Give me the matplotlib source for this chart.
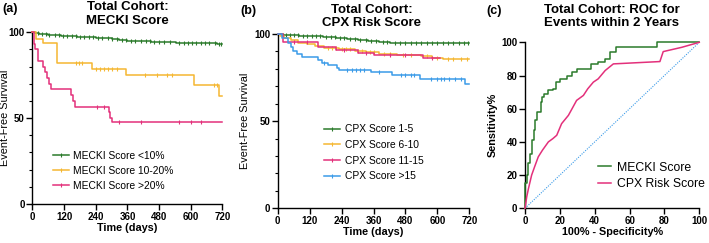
import matplotlib
matplotlib.use("Agg")
import matplotlib.pyplot as plt
import numpy as np
from matplotlib.lines import Line2D

plt.rcParams['font.family'] = ['Liberation Sans', 'DejaVu Sans']

# ---------------- Data ----------------
# Panel (a): MECKI score KM curves (event times, survival % after event)
a_green_t = [10, 25, 40, 60, 80, 110, 140, 170, 210, 240, 270, 300, 330, 360, 400, 450, 510, 545, 560, 700]
a_green_s = [99.6, 99.3, 99.0, 98.7, 98.4, 98.1, 97.8, 97.5, 97.2, 96.8, 96.4, 96.0, 95.6, 95.2, 94.9, 94.6, 94.3, 93.8, 93.5, 93.2]
a_green_c = [20, 35, 50, 65, 85, 100, 115, 130, 150, 165, 180, 195, 215, 230, 250, 265, 285, 300, 320, 340,
             355, 375, 390, 410, 430, 445, 460, 480, 500, 520, 555, 575, 590, 605, 620, 640, 655, 670, 690, 705, 715]
a_yellow_t = [15, 40, 95, 225, 355, 613, 705]
a_yellow_s = [96.0, 93.5, 82.0, 78.7, 75.1, 69.3, 62.9]
a_yellow_c = [166, 177, 187, 240, 255, 270, 285, 300, 320, 427, 471, 509, 528, 686, 699]
a_pink_t = [5, 8, 12, 20, 42, 47, 55, 62, 70, 145, 155, 163, 290, 295, 301]
a_pink_s = [96.7, 93.3, 90.0, 83.3, 80.0, 76.7, 73.3, 70.0, 66.7, 63.3, 60.0, 56.7, 53.3, 50.0, 47.5]
a_pink_c = [245, 270, 330, 410, 555, 600, 640]
a_end = 720

# Panel (b): CPX risk score KM curves
b_green_t = [15, 40, 80, 120, 170, 220, 260, 300, 340, 380, 420]
b_green_s = [99.7, 99.4, 99.0, 98.7, 98.2, 97.8, 97.4, 96.8, 96.2, 95.6, 95.1]
b_green_c = [20, 30, 45, 60, 75, 95, 110, 130, 145, 160, 180, 200, 215, 235, 250, 270, 290, 310, 330, 350,
             370, 395, 410, 440, 460, 480, 500, 520, 540, 560, 580, 600, 620, 640, 660, 680, 700, 715]
b_yellow_t = [10, 25, 50, 75, 110, 140, 175, 230, 290, 330, 380, 450, 540, 580, 620]
b_yellow_s = [99.0, 98.0, 96.5, 95.0, 94.0, 93.0, 92.0, 91.2, 90.3, 89.5, 88.8, 88.2, 87.4, 86.5, 85.7]
b_yellow_c = [190, 205, 220, 240, 255, 270, 300, 315, 345, 360, 400, 420, 470, 500, 560, 600, 640, 660, 690, 710]
b_pink_t = [20, 150, 220, 300, 360, 545]
b_pink_s = [95.6, 92.5, 91.0, 89.2, 88.2, 86.1]
b_pink_c = [60, 110, 250, 330, 420, 480, 580]
b_pink_end = 610
b_blue_t = [15, 40, 49, 59, 71, 90, 153, 165, 190, 222, 232, 351, 428, 535, 704]
b_blue_s = [97.6, 94.8, 92.3, 90.4, 88.5, 86.8, 84.9, 83.3, 82.0, 80.5, 79.6, 78.0, 76.7, 74.3, 71.3]
b_blue_c = [175, 260, 280, 295, 310, 325, 380, 465, 480, 500, 512, 575, 600, 612, 625, 645, 665, 690]
b_end = 720

# Panel (c): ROC curves (100% - specificity, sensitivity)
roc_mecki_x = [0, 0, 1, 1, 2, 2, 3, 3, 4, 4, 5, 5, 6, 6, 7, 7, 9, 9, 10, 10, 11, 11, 13, 13, 16, 16, 18, 18,
               20, 20, 24, 24, 27, 27, 30, 30, 38, 38, 42, 42, 46, 46, 49, 49, 52, 52, 76, 76, 100]
roc_mecki_y = [0, 15, 15, 20, 20, 27, 27, 33, 33, 41, 41, 47, 47, 53, 53, 58, 58, 64, 64, 67, 67, 69, 69, 71,
               71, 72, 72, 76, 76, 78, 78, 80, 80, 82, 82, 84, 84, 87, 87, 88, 88, 90, 90, 94, 94, 97.4, 97.4, 100, 100]
roc_cpx_x = [0, 1, 2, 3.8, 5.5, 7.6, 10, 13.4, 16, 18.2, 21, 24.9, 27, 29.6, 33.5, 36, 39.2, 42, 46, 50.7, 77.4, 79.3, 90, 100]
roc_cpx_y = [0, 7, 12, 20, 25, 31, 35, 40, 42, 44, 51, 56, 60, 65, 68, 72, 76, 78, 83, 87, 88.4, 94.4, 97, 100]

# ---------------- Styles ----------------
GREEN = "#2b7a2b"
YELLOW = "#f5b731"
PINK = "#e3307b"
BLUE = "#3b9be8"
LW = 1.1


def step_xy(times, surv, end):
    x = [0] + list(times) + [end]
    y = [100] + list(surv) + [surv[-1]]
    return x, y


def level_at(times, surv, t):
    idx = np.searchsorted(np.asarray(times), t, side='right') - 1
    return 100 if idx < 0 else surv[idx]


def km(ax, times, surv, cens, end, color):
    x, y = step_xy(times, surv, end)
    ax.step(x, y, where='post', color=color, lw=LW, clip_on=False, zorder=3)
    cy = [level_at(times, surv, c) for c in cens]
    ax.plot(cens, cy, ls='none', marker='|', ms=3.5, mew=0.8, color=color, clip_on=False, zorder=3)


fig = plt.figure(figsize=(7.09, 2.43), dpi=100)

TICK_FS = 7
TITLE_FS = 9.5
PANEL_FS = 9


def style_axes(ax):
    for s in ['top', 'right']:
        ax.spines[s].set_visible(False)
    for s in ['left', 'bottom']:
        ax.spines[s].set_linewidth(1.0)
        ax.spines[s].set_color('black')
    ax.tick_params(axis='both', which='major', length=4, width=1.0, direction='out',
                   labelsize=TICK_FS, pad=1.5)
    ax.tick_params(axis='both', which='minor', length=2.5, width=0.8, direction='out')
    for lab in ax.get_xticklabels() + ax.get_yticklabels():
        lab.set_fontweight('bold')


def km_axes(ax, ylab_x):
    ax.set_xlim(0, 720)
    ax.set_ylim(0, 100)
    ax.set_xticks([0, 120, 240, 360, 480, 600, 720])
    ax.set_yticks([0, 50, 100])
    ax.set_yticks(np.arange(0, 101, 10), minor=True)
    ax.set_xlabel("Time (days)", fontsize=7.8, fontweight='bold', labelpad=1)
    ax.set_ylabel("Event-Free Survival", fontsize=7.8)
    ax.yaxis.set_label_coords(ylab_x, 0.5)
    style_axes(ax)


# ---- Panel (a)
ax1 = fig.add_axes([0.0456, 0.1605, 0.2682, 0.7065])
km(ax1, a_green_t, a_green_s, a_green_c, a_end, GREEN)
km(ax1, a_yellow_t, a_yellow_s, a_yellow_c, a_end, YELLOW)
km(ax1, a_pink_t, a_pink_s, a_pink_c, a_end, PINK)
km_axes(ax1, -0.118)
h1 = [Line2D([], [], color=c, lw=LW, marker='|', ms=3.5, mew=0.8) for c in (GREEN, YELLOW, PINK)]
ax1.legend(h1, ["MECKI Score <10%", "MECKI Score 10-20%", "MECKI Score >20%"],
           loc='upper left', bbox_to_anchor=(0.085, 0.335), frameon=False, fontsize=7.4,
           handlelength=1.6, handletextpad=0.4, labelspacing=0.5, borderaxespad=0)
fig.text(0.180, 0.995, "Total Cohort:\nMECKI Score", ha='center', va='top',
         fontsize=TITLE_FS, fontweight='bold', linespacing=1.15)
fig.text(0.003, 0.965, "(a)", ha='left', va='center', fontsize=PANEL_FS, fontweight='bold')

# ---- Panel (b)
ax2 = fig.add_axes([0.3917, 0.1428, 0.2703, 0.7172])
km(ax2, b_green_t, b_green_s, b_green_c, b_end, GREEN)
km(ax2, b_yellow_t, b_yellow_s, b_yellow_c, b_end, YELLOW)
km(ax2, b_pink_t, b_pink_s, b_pink_c, b_pink_end, PINK)
km(ax2, b_blue_t, b_blue_s, b_blue_c, b_end, BLUE)
km_axes(ax2, -0.145)
h2 = [Line2D([], [], color=c, lw=LW, marker='|', ms=3.5, mew=0.8) for c in (GREEN, YELLOW, PINK, BLUE)]
ax2.legend(h2, ["CPX Score 1-5", "CPX Score 6-10", "CPX Score 11-15", "CPX Score >15"],
           loc='upper left', bbox_to_anchor=(0.22, 0.505), frameon=False, fontsize=7.4,
           handlelength=1.6, handletextpad=0.4, labelspacing=0.55, borderaxespad=0)
fig.text(0.524, 0.985, "Total Cohort:\nCPX Risk Score", ha='center', va='top',
         fontsize=TITLE_FS, fontweight='bold', linespacing=1.15)
fig.text(0.339, 0.955, "(b)", ha='left', va='center', fontsize=PANEL_FS, fontweight='bold')

# ---- Panel (c)
ax3 = fig.add_axes([0.7405, 0.1428, 0.2458, 0.6831])
ax3.plot([0, 100], [0, 100], ls=(0, (1, 1.2)), color=BLUE, lw=0.8, zorder=1)
ax3.plot(roc_mecki_x, roc_mecki_y, color=GREEN, lw=LW, clip_on=False, zorder=3)
ax3.plot(roc_cpx_x, roc_cpx_y, color=PINK, lw=LW, clip_on=False, zorder=3)
ax3.set_xlim(0, 100)
ax3.set_ylim(0, 100)
ax3.set_xticks(np.arange(0, 101, 20))
ax3.set_yticks(np.arange(0, 101, 20))
ax3.set_xlabel("100% - Specificity%", fontsize=7.8, fontweight='bold', labelpad=1)
ax3.set_ylabel("Sensitivity%", fontsize=7.8, fontweight='bold')
ax3.yaxis.set_label_coords(-0.155, 0.5)
style_axes(ax3)
h3 = [Line2D([], [], color=c, lw=LW) for c in (GREEN, PINK)]
ax3.legend(h3, ["MECKI Score", "CPX Risk Score"], loc='upper left', bbox_to_anchor=(0.39, 0.31),
           frameon=False, fontsize=8.8, handlelength=1.1, handletextpad=0.5, labelspacing=0.35,
           borderaxespad=0)
fig.text(0.863, 0.985, "Total Cohort: ROC for\nEvents within 2 Years", ha='center', va='top',
         fontsize=TITLE_FS, fontweight='bold', linespacing=1.15)
fig.text(0.686, 0.955, "(c)", ha='left', va='center', fontsize=PANEL_FS, fontweight='bold')

fig.savefig("out.png", dpi=100)
